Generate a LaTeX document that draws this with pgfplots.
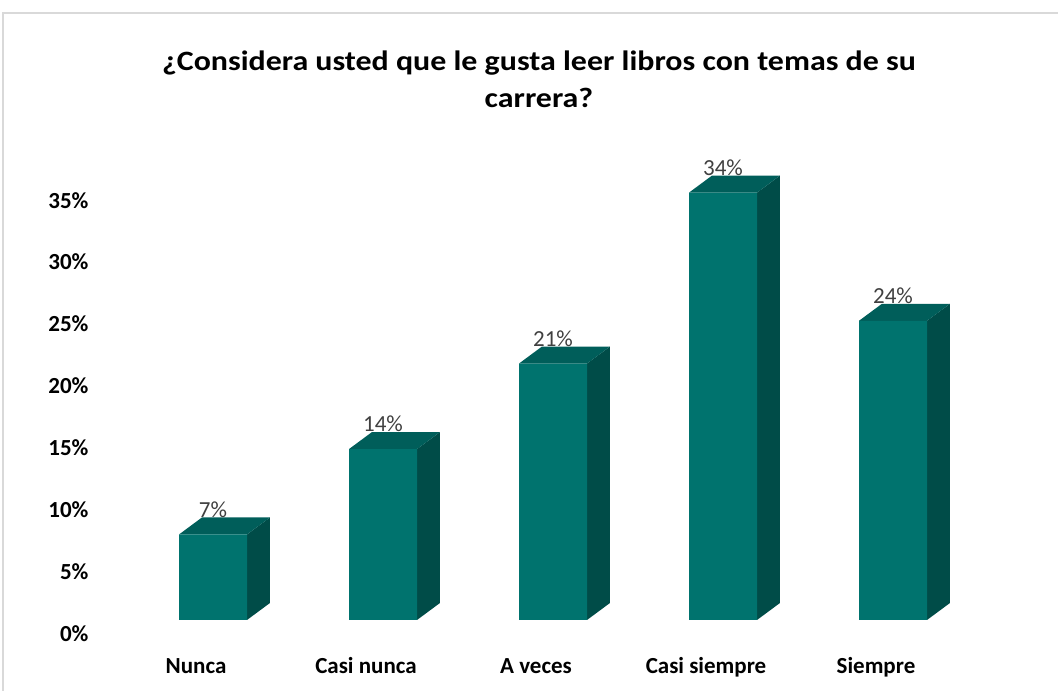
\documentclass[border=0pt]{standalone}
\usepackage{pgfplots}
\pgfplotsset{compat=1.18}
\usepackage{pgfplotstable}
\usepackage{fontspec}
\setmainfont{Carlito}

\definecolor{front}{HTML}{00736E}
\definecolor{topf}{HTML}{005E5A}
\definecolor{side}{HTML}{004C48}
\definecolor{lbl}{HTML}{404040}
\definecolor{framec}{HTML}{D9D9D9}

% share of answers (%), 29 respondents
\pgfplotstableread{
x v
0 6.90
1 13.79
2 20.69
3 34.48
4 24.14
}\answers

\begin{document}
\begin{tikzpicture}
\useasboundingbox (0pt,0pt) rectangle (1058pt,691pt);
\draw[framec, line width=2pt] (3pt,0pt) -- (3pt,678pt) -- (1060pt,678pt);
\node[font=\bfseries\fontsize{28}{37}\selectfont, align=center, xscale=1.14] at (539pt,612pt)
  {¿Considera usted que le gusta leer libros con temas de su\\carrera?};

\begin{axis}[at={(94pt,71pt)}, anchor=south west,
  scale only axis, width=918pt, height=471pt,
  xmin=-0.7, xmax=4.7, ymin=0, ymax=38, clip=false,
  axis line style={draw=none}, major tick length=0pt,
  /pgf/number format/assume math mode=true,
  xtick={0,...,4},
  xticklabels={Nunca, Casi nunca, A veces, Casi siempre, Siempre},
  xticklabel style={anchor=base, yshift=-53pt, xshift=-17pt,
    font=\bfseries\fontsize{23}{23}\selectfont},
  ytick={0,5,...,35},
  yticklabel={\pgfmathprintnumber{\tick}\%},
  yticklabel style={anchor=east, xshift=-2pt, yshift=-14pt,
    font=\bfseries\fontsize{23}{23}\selectfont},
]
% side and top faces of the 3d columns
\pgfplotsinvokeforeach{0,...,4}{
  \pgfplotstablegetelem{#1}{v}\of\answers
  \pgfmathsetmacro\va{\pgfplotsretval}
  \pgfmathsetmacro\vb{\pgfplotsretval+1.372}
  \pgfmathsetmacro\xa{#1+0.2}
  \pgfmathsetmacro\xb{#1+0.335}
  \pgfmathsetmacro\xc{#1-0.2}
  \pgfmathsetmacro\xd{#1-0.065}
  \edef\doit{%
    \noexpand\addplot[fill=side, draw=none, forget plot]
      coordinates {(\xa,0) (\xb,1.372) (\xb,\vb) (\xa,\va)};
    \noexpand\addplot[fill=topf, draw=none, forget plot]
      coordinates {(\xc,\va) (\xa,\va) (\xb,\vb) (\xd,\vb)};
  }\doit
}
% front faces
\addplot[ybar, bar width=68pt, fill=front, draw=none,
  point meta=y,
  nodes near coords={\pgfmathprintnumber[fixed,precision=0]{\pgfplotspointmeta}\%},
  every node near coord/.append style={anchor=center, yshift=25pt,
    text=lbl, font=\fontsize{23}{23}\selectfont}]
  table[x=x, y=v]{\answers};
\end{axis}
\end{tikzpicture}
\end{document}
